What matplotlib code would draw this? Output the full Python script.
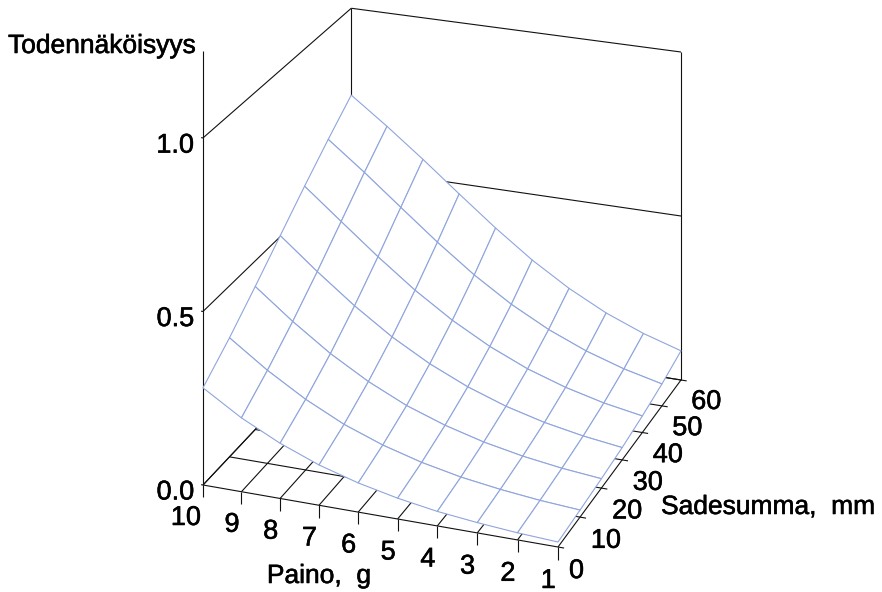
import numpy as np
import matplotlib
matplotlib.use("Agg")
import matplotlib.pyplot as plt
import matplotlib.patheffects as pe
from mpl_toolkits.mplot3d import proj3d

plt.rcParams['font.family'] = ['Liberation Sans', 'DejaVu Sans']

weight = [1, 2, 3, 4, 5, 6, 7, 8, 9, 10]
rain = [0, 10, 20, 30, 40, 50, 60]
prob_levels = [0.0, 0.5, 1.0]

# one row per rain value, one column per weight
probability = [
    [.014, .020, .029, .041, .059, .083, .115, .158, .212, .280],
    [.020, .028, .040, .056, .079, .110, .151, .205, .271, .348],
    [.027, .038, .054, .076, .106, .145, .197, .261, .338, .424],
    [.036, .051, .072, .101, .140, .190, .252, .327, .412, .503],
    [.049, .069, .097, .134, .183, .244, .317, .401, .491, .582],
    [.066, .093, .129, .176, .235, .307, .390, .480, .571, .657],
    [.089, .124, .169, .227, .297, .379, .468, .559, .646, .728],
]

AXIS_TOP = 1.25
BLACK = '#111111'
GRID_BLUE = '#8fa5dc'
LW = 0.8
BOLDER = [pe.withStroke(linewidth=0.4, foreground='black')]

# camera of the original: verticals stay vertical, depth shrinks them a bit
# rows: pixel x, pixel y, depth, w  (columns: weight, rain, probability, 1)
projection = np.array([
    [-348.9 / 9, 184.3 / 60, 0.0, 558 + 348.9 / 9],
    [-47.45 / 9, -132.8 / 60, -357.5, 547 + 47.45 / 9],
    [1.0 / 9, 1.0 / 60, 0.0, -1.0 / 9],
    [.030 / 9, .090 / 60, 0.0, 1 - .030 / 9],
])


def line(ax, xs, ys, zs, color=BLACK):
    ax.plot(xs, ys, zs, color=color, lw=LW, zorder=1, solid_capstyle='butt')


def label(ax, x, r, p, text, ha):
    px, py, _ = proj3d.proj_transform(x, r, p, projection)
    ax.text2D(px, py, text, transform=ax.transData, ha=ha, va='center', fontsize=19.5, path_effects=BOLDER)


fig = plt.figure(figsize=(8.82, 5.92), dpi=100, facecolor='white')
ax = fig.add_axes([0, 0, 1, 1], projection='3d', computed_zorder=False)
ax.set_axis_off()
ax.set_proj_type('ortho')  # keeps Line3D from clipping to the unit square
ax.get_proj = lambda: projection

x_min, x_max = weight[0], weight[-1]
r_min, r_max = rain[0], rain[-1]

# floor grid
for w in weight:
    line(ax, [w, w], [r_min, r_max], [0, 0])
    line(ax, [w, w], [r_min, r_min], [0, -0.035])
    label(ax, w + 0.05, r_min, -0.096, str(w), 'right')
for r in rain:
    line(ax, [x_min - 0.15, x_max], [r, r], [0, 0])
    label(ax, x_min - 0.27, r, -0.062, str(r), 'left')

# left and back wall
line(ax, [x_max, x_max], [r_min, r_min], [0, AXIS_TOP])
line(ax, [x_max, x_max], [r_max, r_max], [0, 1.0])
line(ax, [x_min, x_min], [r_max, r_max], [0, 1.0])
for p in prob_levels:
    line(ax, [x_max, x_max], [r_min, r_max], [p, p])
    line(ax, [x_max, x_min], [r_max, r_max], [p, p])
    line(ax, [x_max + 0.05, x_max], [r_min, r_min], [p, p])
    label(ax, x_max + 0.23, r_min, p - 0.026, f'{p:.1f}', 'right')

# surface hides whatever lies behind it
W, R = np.meshgrid(weight, rain)
ax.plot_surface(W, R, np.array(probability), rstride=1, cstride=1, color='white', shade=False,
                edgecolor=GRID_BLUE, linewidth=LW, zorder=2, antialiased=True)

fig.text(8 / 882, 1 - 53 / 592, 'Todennäköisyys', fontsize=19, ha='left', va='baseline', path_effects=BOLDER)
fig.text(319 / 882, 1 - 576 / 592, 'Paino,  g', fontsize=19, ha='center', va='center', path_effects=BOLDER)
fig.text(661 / 882, 1 - 507 / 592, 'Sadesumma,  mm', fontsize=19, ha='left', va='center', path_effects=BOLDER)

# square 3d axes sit centred in the figure, limits are in pixels
ax.viewLim.intervalx = (145, 737)
ax.viewLim.intervaly = (592, 0)

fig.savefig('out.png', dpi=100)
